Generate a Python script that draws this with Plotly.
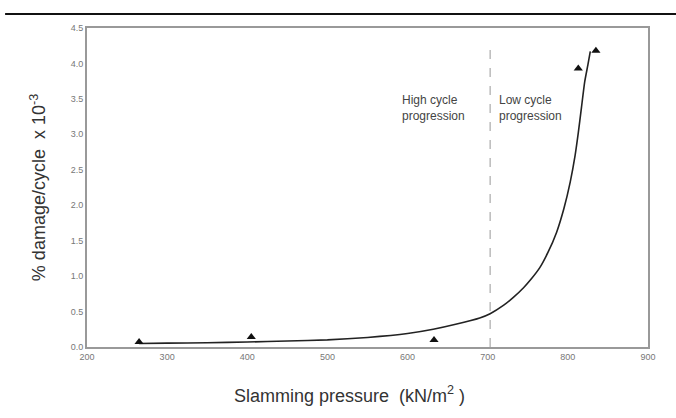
import plotly.graph_objects as go

# Measured data points (triangles)
pts_x = [265, 405, 633, 813, 835]
pts_y = [0.07, 0.14, 0.10, 3.93, 4.18]

# Fitted curve
curve_x = [265, 300, 350, 400, 450, 500, 550, 600, 632, 660, 690, 703, 720, 732, 745, 755, 765, 775, 786, 795, 803, 809, 813, 817, 821, 825, 828]
curve_y = [0.05, 0.055, 0.06, 0.07, 0.085, 0.10, 0.135, 0.19, 0.25, 0.32, 0.41, 0.47, 0.59, 0.70, 0.84, 0.97, 1.12, 1.33, 1.62, 1.95, 2.33, 2.70, 3.02, 3.38, 3.74, 3.98, 4.17]

boundary_x = 703
x_ticks = [200, 300, 400, 500, 600, 700, 800, 900]
y_ticks = [0.0, 0.5, 1.0, 1.5, 2.0, 2.5, 3.0, 3.5, 4.0, 4.5]

FONT = "Liberation Sans, Arial, sans-serif"

fig = go.Figure()
fig.add_trace(go.Scatter(x=curve_x, y=curve_y, mode="lines",
                         line=dict(color="#222", width=1.6, shape="spline", smoothing=0.5),
                         showlegend=False, hoverinfo="skip"))
fig.add_trace(go.Scatter(x=pts_x, y=pts_y, mode="markers",
                         marker=dict(symbol="triangle-up", size=8, color="#111"),
                         showlegend=False))

fig.add_shape(type="line", xref="x", yref="y", x0=boundary_x, x1=boundary_x, y0=0, y1=4.27,
              line=dict(color="#999", width=1, dash="dash"))
# top rule
fig.add_shape(type="line", xref="paper", yref="paper", x0=-0.146, x1=1.06, y0=1.044, y1=1.044,
              line=dict(color="#111", width=2))

fig.add_annotation(x=590, y=3.37, xref="x", yref="y", text="High cycle<br>progression",
                   showarrow=False, xanchor="left", yanchor="middle", align="left",
                   font=dict(family=FONT, size=12, color="#444"))
fig.add_annotation(x=711, y=3.37, xref="x", yref="y", text="Low cycle<br>progression",
                   showarrow=False, xanchor="left", yanchor="middle", align="left",
                   font=dict(family=FONT, size=12, color="#444"))

# x-axis title (offset left of centre, as in the original)
fig.add_annotation(x=527, y=-0.15, xref="x", yref="paper",
                   text="Slamming pressure  (kN/m<sup>2</sup> )", showarrow=False,
                   xanchor="center", yanchor="middle",
                   font=dict(family=FONT, size=18, color="#333"))

fig.update_layout(
    width=676, height=418,
    margin=dict(l=87, r=28, t=28, b=71),
    paper_bgcolor="white", plot_bgcolor="white",
    font=dict(family=FONT),
    xaxis=dict(range=[200, 900], tickvals=x_ticks, ticktext=[str(v) for v in x_ticks],
               showgrid=False, zeroline=False, showline=True, linecolor="#999", linewidth=2,
               mirror=True, ticks="", tickfont=dict(size=9, color="#777")),
    yaxis=dict(range=[0, 4.5], tickvals=y_ticks, ticktext=[f"{v:.1f}" for v in y_ticks],
               showgrid=False, zeroline=False, showline=True, linecolor="#999", linewidth=2,
               mirror=True, ticks="", tickfont=dict(size=9, color="#777"),
               title=dict(text="% damage/cycle  x 10<sup>-3</sup>", standoff=20,
                          font=dict(size=18, color="#333"))),
)

fig.write_html("out.html")
